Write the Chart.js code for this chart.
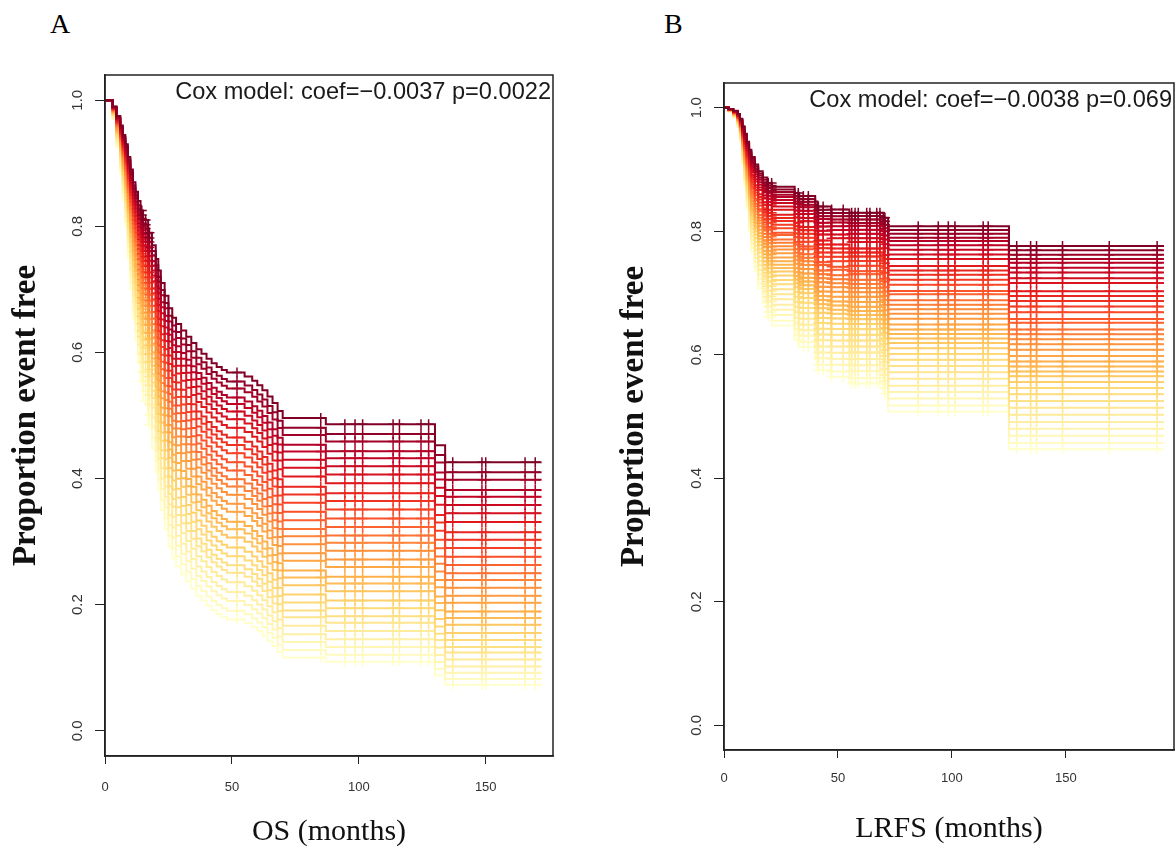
<!DOCTYPE html>
<html>
<head>
<meta charset="utf-8">
<script src="https://cdn.jsdelivr.net/npm/chart.js@4"></script>
<style>
    body { margin: 0; width: 1175px; height: 852px; background: #fff; position: relative; overflow: hidden; }
    .panel { position: absolute; top: 0; height: 852px; }
    #wrapA { left: 0; width: 560px; }
    #wrapB { left: 600px; width: 575px; }
    .tag { position: absolute; font-family: 'Liberation Serif', 'Times New Roman', serif; font-size: 28px; line-height: 1; color: #000; }
</style>
</head>
<body>
<div class="tag" style="left:50px;top:10px">A</div>
<div class="tag" style="left:664px;top:10px">B</div>
<div class="panel" id="wrapA"><canvas id="osChart"></canvas></div>
<div class="panel" id="wrapB"><canvas id="lrfsChart"></canvas></div>
<script>
// OS: darkest (top) curve, step times in months and survival after each step
const osTimes = [0, 3, 4.5, 6, 7, 8, 9, 10, 11, 12, 13, 14, 15, 17, 18.5, 20, 21, 22, 23.5, 25,
    26.5, 28, 30, 32, 34, 36, 38, 40, 42, 44, 46, 48, 55, 58, 60, 62, 64, 66, 68, 70, 87, 130, 134, 172];
const osTop = [1.0, 0.99, 0.975, 0.96, 0.945, 0.93, 0.91, 0.89, 0.87, 0.855, 0.84, 0.825, 0.81, 0.79, 0.77, 0.748, 0.73, 0.71, 0.69, 0.67,
    0.655, 0.645, 0.635, 0.625, 0.615, 0.605, 0.598, 0.59, 0.583, 0.577, 0.572, 0.568, 0.562, 0.555, 0.548, 0.54, 0.53, 0.52, 0.507, 0.496, 0.486, 0.453, 0.426, 0.426];
const osCensor = [14.5, 16, 17.5, 52, 85, 94.5, 98.5, 101.5, 113.5, 116, 124.5, 127.5, 137, 148.5, 150, 165.5, 169.5];
// final level of every curve, read at the right end of the plot
const osEnds = [0.426, 0.410, 0.398, 0.382, 0.371, 0.358, 0.345, 0.331, 0.315, 0.303, 0.290, 0.276, 0.263, 0.250, 0.239,
    0.227, 0.214, 0.203, 0.189, 0.179, 0.168, 0.155, 0.144, 0.133, 0.124, 0.113, 0.102, 0.092, 0.082, 0.073];

// LRFS
const lrfsTimes = [0, 2, 4, 6, 7, 8, 9, 10, 11, 12, 13.5, 15, 17, 19, 21, 31, 33, 40, 41, 47, 55, 70, 72, 125, 193];
const lrfsTop = [1.0, 0.998, 0.995, 0.99, 0.982, 0.97, 0.958, 0.945, 0.932, 0.92, 0.908, 0.897, 0.887, 0.878, 0.872,
    0.862, 0.857, 0.848, 0.84, 0.835, 0.83, 0.822, 0.808, 0.776, 0.776];
const lrfsCensor = [19.4, 20.9, 32.6, 34.8, 37, 41.4, 43.5, 47.2, 52.3, 56, 57.5, 58.9, 62.6, 64, 67, 68.4, 70.6,
    85.2, 94, 98.4, 101.3, 113.7, 115.9, 128.4, 134.5, 137.1, 148.5, 169, 190];
const lrfsEnds = [0.776, 0.769, 0.762, 0.755, 0.749, 0.741, 0.733, 0.724, 0.716, 0.703, 0.695, 0.687, 0.678, 0.669, 0.658,
    0.652, 0.641, 0.633, 0.625, 0.617, 0.608, 0.598, 0.589, 0.581, 0.573, 0.565, 0.556, 0.546, 0.536, 0.525,
    0.514, 0.503, 0.491, 0.480, 0.469, 0.457, 0.447];

const osXTicks = [0, 50, 100, 150];
const lrfsXTicks = [0, 50, 100, 150];
const yTicks = [0, 0.2, 0.4, 0.6, 0.8, 1.0];

const ylOrRd = ['#800026', '#bd0026', '#e31a1c', '#fc4e2a', '#fd8d3c', '#feb24c', '#fed976', '#ffeda0', '#ffffcc'];

function ramp(n) {
    const stops = ylOrRd.map(h => [1, 3, 5].map(i => parseInt(h.slice(i, i + 2), 16)));
    return Array.from({length: n}, (_, i) => {
        const p = i / (n - 1) * (stops.length - 1);
        const a = Math.floor(p), b = Math.min(a + 1, stops.length - 1), f = p - a;
        const c = stops[a].map((v, m) => Math.round(v + (stops[b][m] - v) * f));
        return 'rgb(' + c.join(',') + ')';
    });
}

// each curve follows the top one with its own exponent (Cox proportional hazards)
function curvePoints(times, top, censor, k) {
    const pts = times.map((t, j) => ({x: t, y: Math.pow(top[j], k), c: false}));
    censor.forEach(t => {
        let j = 0;
        while (j + 1 < times.length && times[j + 1] <= t) j++;
        pts.push({x: t, y: Math.pow(top[j], k), c: true});
    });
    return pts.sort((a, b) => a.x - b.x);
}

function buildDatasets(times, top, censor, ends) {
    const colors = ramp(ends.length);
    const base = Math.log(ends[0]);
    return ends.map((end, i) => ({
        data: curvePoints(times, top, censor, Math.log(end) / base),
        stepped: true,
        borderColor: colors[i],
        borderWidth: 2,
        fill: false,
        pointStyle: 'cross',
        pointRadius: ctx => (ctx.raw && ctx.raw.c) ? 5 : 0,
        pointBorderColor: colors[i],
        pointBorderWidth: 1.5
    }));
}

const frame = {
    id: 'frame',
    afterDraw(chart, args, opts) {
        const {ctx, chartArea: a} = chart;
        ctx.save();
        ctx.strokeStyle = '#222';
        ctx.lineWidth = 1.5;
        ctx.strokeRect(a.left, a.top, a.right - a.left, a.bottom - a.top);
        ctx.font = '23.6px "Liberation Sans", Arial, sans-serif';
        ctx.fillStyle = '#1a1a1a';
        ctx.textAlign = 'right';
        ctx.textBaseline = 'middle';
        ctx.fillText(opts.text, a.right - 2, a.top + 17);
        ctx.restore();
    }
};

function makeChart(el, o) {
    return new Chart(el, {
        type: 'line',
        data: {datasets: buildDatasets(o.times, o.top, o.censor, o.ends)},
        options: {
            responsive: true,
            maintainAspectRatio: false,
            animation: false,
            events: [],
            layout: {padding: o.padding},
            scales: {
                x: {
                    type: 'linear',
                    min: 0,
                    max: o.xMax,
                    afterBuildTicks: s => { s.ticks = o.xTicks.map(v => ({value: v})); },
                    afterFit: s => { s.height = o.xHeight; },
                    grid: {display: true, drawOnChartArea: false, drawTicks: true, tickLength: 8, color: '#222'},
                    border: {display: true, color: '#222', width: 1.5},
                    ticks: {
                        font: {family: 'Liberation Sans', size: 13},
                        color: '#333',
                        padding: o.xPad,
                        maxRotation: 0
                    },
                    title: {
                        display: true,
                        text: o.xTitle,
                        padding: 0,
                        color: '#111',
                        font: {family: 'Liberation Serif', size: 30}
                    }
                },
                y: {
                    type: 'linear',
                    min: -0.04,
                    max: 1.04,
                    afterBuildTicks: s => { s.ticks = yTicks.map(v => ({value: v})); },
                    afterFit: s => { s.width = o.yWidth; },
                    grid: {display: true, drawOnChartArea: false, drawTicks: true, tickLength: 10, color: '#222'},
                    border: {display: true, color: '#222', width: 1.5},
                    ticks: {
                        font: {family: 'Liberation Sans', size: 15},
                        color: '#333',
                        minRotation: 90,
                        maxRotation: 90,
                        crossAlign: 'center',
                        padding: o.yPad,
                        callback: v => v.toFixed(1)
                    },
                    title: {
                        display: true,
                        text: 'Proportion event free',
                        padding: 0,
                        color: '#111',
                        font: {family: 'Liberation Serif', size: 33, weight: 'bold'}
                    }
                }
            },
            plugins: {
                legend: {display: false},
                tooltip: {enabled: false},
                frame: {text: o.cox}
            }
        },
        plugins: [frame]
    });
}

makeChart(document.getElementById('osChart'), {
    times: osTimes, top: osTop, censor: osCensor, ends: osEnds,
    xMax: 176.5, xTicks: osXTicks, xTitle: 'OS (months)',
    padding: {left: 7, top: 75, right: 7, bottom: 2},
    xHeight: 94, yWidth: 98, xPad: 16, yPad: 7,
    cox: 'Cox model: coef=\u22120.0037 p=0.0022'
});

makeChart(document.getElementById('lrfsChart'), {
    times: lrfsTimes, top: lrfsTop, censor: lrfsCensor, ends: lrfsEnds,
    xMax: 197.4, xTicks: lrfsXTicks, xTitle: 'LRFS (months)',
    padding: {left: 15, top: 83, right: 1, bottom: 5},
    xHeight: 97, yWidth: 109, xPad: 13, yPad: 7,
    cox: 'Cox model: coef=\u22120.0038 p=0.069'
});
</script>
</body>
</html>
